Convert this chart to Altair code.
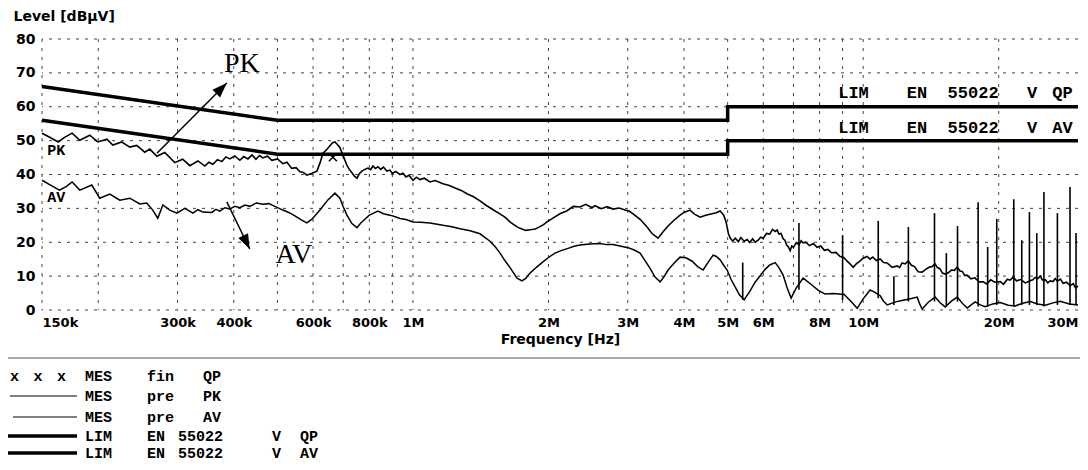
import math
import altair as alt
import pandas as pd

# ---------------- data ----------------
# frequencies in MHz, levels in dBµV
pk_freq = [0.150, 0.156, 0.163, 0.168, 0.175, 0.182, 0.1915, 0.1995, 0.209, 0.2155, 0.2255, 0.235, 0.2435,
           0.2537, 0.2603, 0.270, 0.281, 0.2958, 0.308, 0.3195, 0.333, 0.345, 0.352, 0.3594, 0.368, 0.3763,
           0.384, 0.392, 0.402, 0.4126, 0.421, 0.43, 0.439, 0.448, 0.456, 0.464, 0.475, 0.486, 0.50, 0.514,
           0.525, 0.538, 0.55, 0.561, 0.571, 0.581, 0.595, 0.612, 0.622, 0.631, 0.643, 0.654, 0.663, 0.671,
           0.680, 0.688, 0.70, 0.713, 0.722, 0.732, 0.741, 0.751, 0.760, 0.770, 0.782, 0.794, 0.805, 0.815,
           0.825, 0.836, 0.848, 0.86, 0.875, 0.889, 0.90, 0.915, 0.936, 0.95, 0.965, 0.98, 1.0, 1.018, 1.036,
           1.06, 1.091, 1.12, 1.166, 1.20, 1.24, 1.28, 1.318, 1.36, 1.409, 1.45, 1.506, 1.55, 1.601, 1.65,
           1.70, 1.729, 1.78, 1.82, 1.87, 1.915, 1.95, 1.985, 2.05, 2.121, 2.2, 2.27, 2.35, 2.42, 2.5, 2.537,
           2.62, 2.7, 2.783, 2.87, 2.959, 3.02, 3.083, 3.2, 3.311, 3.40, 3.503, 3.59, 3.687, 3.8, 3.92, 4.0,
           4.126, 4.22, 4.343, 4.47, 4.617, 4.72, 4.811, 4.90, 4.96,
           5.02, 5.064, 5.13, 5.2, 5.28, 5.35, 5.44, 5.524, 5.6, 5.68, 5.76, 5.843, 5.92, 6.0, 6.1, 6.2,
           6.29, 6.376, 6.44, 6.5, 6.57, 6.64, 6.7, 6.76, 6.82, 6.883, 6.94, 7.0, 7.1, 7.2, 7.28, 7.356,
           7.45, 7.6, 7.75, 7.9, 8.05, 8.2, 8.35, 8.5, 8.7, 8.889, 9.05, 9.2, 9.35, 9.501, 9.65, 9.8, 10.0,
           10.2, 10.35, 10.5, 10.7, 10.91, 11.1, 11.3, 11.6, 11.9, 12.05, 12.2, 12.4, 12.59, 12.8, 13.0,
           13.25, 13.52, 13.75, 14.0, 14.2, 14.45, 14.6, 14.8, 15.0, 15.21, 15.45, 15.7, 15.95, 16.18, 16.4,
           16.6, 16.8, 17.0, 17.35, 17.7, 18.1, 18.48, 18.8, 19.2, 19.6, 20.16, 20.5, 20.9, 21.2, 21.54,
           21.9, 22.4, 22.9, 23.5, 23.8, 24.1, 24.4, 24.74, 25.0, 25.4, 25.7, 26.04, 26.4, 26.7, 27.0,
           27.41, 27.8, 28.3, 28.8, 29.29, 29.6, 30.0]
pk_level = [52.2, 51.0, 49.6, 50.9, 52.2, 50.1, 51.6, 49.6, 50.4, 48.7, 49.6, 48.1, 48.6,
            46.6, 47.5, 45.4, 46.5, 43.5, 44.5, 42.6, 44.0, 42.5, 43.6, 43.0, 44.4, 43.8,
            45.2, 44.6, 45.5, 44.2, 45.3, 44.6, 45.8, 44.5, 45.6, 44.9, 45.4, 44.2, 44.6, 43.2,
            43.6, 41.8, 42.0, 40.8, 40.6, 39.8, 40.3, 41.0, 43.5, 46.3, 47.3, 48.5, 49.4, 49.6,
            48.8, 48.0, 45.5, 42.8, 41.5, 40.5, 39.5, 38.9, 40.2, 41.0, 41.5, 41.9, 41.4, 42.5,
            41.8, 42.3, 41.5, 42.2, 41.0, 41.3, 40.3, 40.9, 40.0, 40.4, 39.3, 39.8, 38.3, 39.2, 38.5,
            38.9, 37.8, 38.2, 37.3, 36.8, 36.0, 35.3, 34.3, 33.5, 32.2, 31.0, 29.6, 28.6, 27.4, 25.8,
            24.6, 24.1, 23.5, 23.7, 23.9, 24.6, 25.2, 26.0, 27.2, 28.4, 29.3, 30.6, 30.4, 31.2, 30.2, 30.8,
            29.9, 30.5, 29.8, 30.1, 29.5, 29.2, 28.4, 26.7, 24.5, 22.5, 21.2, 23.0, 24.8, 26.5, 28.0, 28.8,
            29.5, 28.3, 27.4, 28.0, 28.4, 28.7, 29.2, 28.0, 26.0,
            22.5, 21.3, 20.3, 21.2, 20.2, 21.4, 20.3, 20.8, 19.9, 21.0, 20.0, 20.6, 21.5, 21.2, 22.6, 22.4,
            23.8, 23.2, 23.6, 22.4, 22.6, 21.0, 20.6, 19.2, 18.6, 17.5, 18.9, 18.5, 19.8, 19.3, 20.4, 19.8,
            20.0, 19.0, 19.6, 18.5, 18.9, 17.6, 17.9, 16.9, 17.0, 15.8, 15.5, 14.5, 13.6, 12.6, 13.6, 14.3, 15.3,
            15.8, 15.0, 15.6, 14.6, 15.1, 14.0, 13.9, 12.6, 13.0, 12.5, 13.9, 13.6, 14.5, 13.2, 12.8,
            11.3, 11.2, 11.9, 12.6, 12.8, 13.6, 12.6, 12.2, 10.9, 10.6, 11.0, 11.8, 11.7, 12.7, 11.5,
            11.4, 10.2, 10.3, 9.2, 9.5, 8.3, 8.3, 7.7, 8.9, 8.2, 8.4, 7.6, 9.1, 8.8, 9.7,
            8.6, 9.0, 8.0, 8.6, 8.9, 9.6, 9.2, 10.0, 8.9, 8.9, 8.0, 8.6, 8.4, 9.3, 8.5,
            9.1, 7.9, 8.2, 7.2, 7.8, 6.6, 7.0]

av_freq = [0.150, 0.156, 0.164, 0.170, 0.175, 0.182, 0.1935, 0.2015, 0.2122, 0.2233, 0.235, 0.2473, 0.2563,
           0.2643, 0.2712, 0.2783, 0.2884, 0.2989, 0.3114, 0.3245, 0.333, 0.3415, 0.3575, 0.365, 0.3725,
           0.382, 0.392, 0.402, 0.4126, 0.4235, 0.4344, 0.449, 0.4642, 0.4785, 0.4935, 0.5141, 0.53, 0.5467,
           0.565, 0.5814, 0.5966, 0.6216, 0.6473, 0.6709, 0.6883, 0.70, 0.7134, 0.7319, 0.7509, 0.765,
           0.7822, 0.80, 0.818, 0.836, 0.86, 0.8889, 0.91, 0.9356, 0.965, 1.0, 1.04, 1.091, 1.166, 1.22,
           1.272, 1.34, 1.409, 1.483, 1.52, 1.561, 1.60, 1.643, 1.703, 1.747, 1.78, 1.82, 1.88, 1.935, 2.0,
           2.068, 2.14, 2.211, 2.28, 2.35, 2.47, 2.604, 2.69, 2.783, 2.88, 3.005, 3.1, 3.195, 3.28, 3.362,
           3.45, 3.539, 3.61, 3.687, 3.8, 3.92, 4.04, 4.169, 4.29, 4.41, 4.52, 4.642, 4.72, 4.811, 4.9,
           4.987, 5.09, 5.195, 5.31, 5.44, 5.6, 5.754, 6.057, 6.2, 6.376, 6.5, 6.64, 6.78, 6.918, 7.1, 7.356,
           7.5, 7.703, 7.95, 8.234, 8.6, 9.074, 9.4, 9.698, 10.0, 10.36, 10.6, 10.91, 11.1, 11.31, 11.8,
           12.27, 12.8, 13.18, 13.35, 13.52, 13.95, 14.45, 14.8, 15.21, 15.7, 16.18, 16.6, 17.02, 17.4,
           17.74, 18.2, 18.67, 19.4, 20.16, 21.0, 21.76, 22.6, 23.5, 24.4, 25.38, 26.4, 27.41, 28.7, 30.0]
av_level = [38.3, 37.0, 35.4, 36.5, 37.8, 35.4, 36.9, 33.0, 34.2, 32.4, 33.0, 31.3, 31.6,
            29.5, 27.1, 31.0, 29.5, 28.6, 30.0, 28.6, 29.6, 28.9, 28.8, 29.7, 29.2,
            30.2, 29.8, 30.6, 30.2, 31.0, 30.6, 31.6, 31.2, 31.4, 30.6, 29.5, 28.8, 27.8,
            26.6, 25.7, 26.8, 29.5, 32.5, 34.5, 33.0, 30.5, 28.0, 25.5, 24.3, 25.6,
            26.8, 28.0, 28.6, 29.2, 28.4, 28.0, 27.6, 27.0, 26.7, 26.0, 25.9, 25.7, 25.0, 24.6,
            24.0, 23.4, 22.5, 20.3, 18.8, 16.8, 14.6, 12.5, 9.4, 8.6, 9.3, 10.9, 12.6, 14.0, 15.5,
            16.8, 17.6, 18.2, 18.8, 19.2, 19.5, 19.6, 19.3, 19.3, 18.9, 18.4, 17.7, 16.8, 14.5, 12.3,
            9.7, 8.3, 9.8, 11.8, 13.8, 15.6, 15.4, 14.4, 12.8, 11.8, 14.0, 16.2, 15.8, 14.8, 13.2,
            11.8, 9.0, 6.8, 4.5, 3.0, 5.5, 8.2, 12.0, 13.3, 14.0, 12.5, 10.3, 6.5, 3.5, 6.5, 9.4,
            8.5, 7.3, 5.8, 4.7, 4.9, 4.6, 2.5, 0.5, 3.3, 5.9, 5.3, 4.2, 2.6, 1.5, 2.4,
            2.9, 3.4, 3.8, 1.8, 0.3, 2.3, 3.8, 2.2, 0.9, 2.6, 3.8, 2.0, 0.6, 1.6,
            2.4, 1.5, 1.0, 1.8, 2.2, 1.4, 1.2, 2.0, 2.5, 1.8, 1.4, 2.1, 2.6, 1.8, 1.5]

spike_freq = [5.4, 7.2, 9.0, 10.8, 11.7, 12.6, 14.4, 15.3, 16.2, 18.0, 18.9, 19.8, 21.6, 22.5, 23.4,
              24.3, 25.2, 27.0, 28.8, 29.7]
spike_top = [14.0, 25.7, 22.1, 26.3, 10.0, 24.5, 28.6, 16.8, 24.8, 31.8, 18.6, 26.9, 32.7, 20.6, 28.9,
             22.7, 34.8, 28.6, 36.3, 22.7]
spike_bottom = [3.0, 6.0, 3.0, 3.5, 1.5, 2.5, 2.5, 1.0, 2.5, 1.0, 1.0, 1.5, 1.0, 1.5, 1.5,
                1.5, 1.0, 1.5, 1.5, 1.5]

qp_lim_freq = [0.15, 0.5, 5.0, 5.0, 30.0]
qp_lim_level = [66, 56, 56, 60, 60]
av_lim_freq = [0.15, 0.5, 5.0, 5.0, 30.0]
av_lim_level = [56, 46, 46, 50, 50]

fin_qp_freq = [0.664]
fin_qp_level = [45.1]

grid_freq = [0.15, 0.2, 0.3, 0.4, 0.5, 0.6, 0.7, 0.8, 0.9, 1, 2, 3, 4, 5, 6, 7, 8, 9, 10, 20]
grid_level = [0, 10, 20, 30, 40, 50, 60, 70, 80]

x_tick_values = [0.15, 0.3, 0.4, 0.6, 0.8, 1, 2, 3, 4, 5, 6, 8, 10, 20, 30]
x_tick_labels = ["150k", "300k", "400k", "600k", "800k", "1M", "2M", "3M", "4M", "5M", "6M", "8M",
                 "10M", "20M", "30M"]
y_tick_values = [0, 10, 20, 30, 40, 50, 60, 70, 80]

legend_rows = [
    ("x x x", "MES", "fin QP"),
    ("", "MES", "pre PK"),
    ("", "MES", "pre AV"),
    ("", "LIM", "EN 55022 V QP"),
    ("", "LIM", "EN 55022 V AV"),
]

# ---------------- layout ----------------
W, H = 1036, 271
F_MIN, F_MAX = 0.15, 30.0
V_MIN, V_MAX = 0, 80
MONO = "Liberation Mono"
SANS = "DejaVu Sans"
SERIF = "Liberation Serif"


def px(f, v):
    x = (math.log10(f) - math.log10(F_MIN)) / (math.log10(F_MAX) - math.log10(F_MIN)) * W
    y = H * (1 - (v - V_MIN) / (V_MAX - V_MIN))
    return x, y


def heading(f1, v1, f2, v2):
    x1, y1 = px(f1, v1)
    x2, y2 = px(f2, v2)
    return math.degrees(math.atan2(x2 - x1, -(y2 - y1))) % 360


label_expr = " : ".join(
    f"datum.value == {v} ? '{t}'" for v, t in zip(x_tick_values, x_tick_labels)
) + " : ''"

xscale = alt.Scale(type="log", domain=[F_MIN, F_MAX], nice=False, zero=False)
yscale = alt.Scale(domain=[V_MIN, V_MAX], nice=False, zero=False)

x_axis = alt.Axis(values=x_tick_values, labelExpr=label_expr, grid=False, ticks=False, domain=False,
                  labelFlush=True, labelOverlap=False, labelBound=False,
                  labelFont=SANS, labelFontWeight="bold", labelFontSize=13, labelColor="black",
                  labelPadding=6, title="Frequency [Hz]", titleFont=SANS, titleFontWeight="bold",
                  titleFontSize=14, titleColor="black", titlePadding=3)
y_axis = alt.Axis(values=y_tick_values, grid=False, ticks=False, domain=False,
                  labelFont=SANS, labelFontWeight="bold", labelFontSize=14, labelColor="black",
                  labelPadding=7, labelOverlap=False,
                  title="Level [dBµV]", titleAngle=0, titleAlign="left", titleBaseline="top",
                  titleX=-29, titleY=-30, titleFont=SANS, titleFontWeight="bold",
                  titleFontSize=14, titleColor="black")


def X(field="f"):
    return alt.X(f"{field}:Q", scale=xscale, axis=x_axis)


def Y(field="v"):
    return alt.Y(f"{field}:Q", scale=yscale, axis=y_axis)


# ---------------- tables ----------------
df_pk = pd.DataFrame({"f": pk_freq, "v": pk_level})
df_av = pd.DataFrame({"f": av_freq, "v": av_level})
df_sp = pd.DataFrame({"f": spike_freq, "v": spike_top, "v2": spike_bottom})
df_lim = pd.concat([
    pd.DataFrame({"f": qp_lim_freq, "v": qp_lim_level, "s": "QP", "i": range(len(qp_lim_freq))}),
    pd.DataFrame({"f": av_lim_freq, "v": av_lim_level, "s": "AV", "i": range(len(av_lim_freq))}),
])
df_fin = pd.DataFrame({"f": fin_qp_freq, "v": fin_qp_level})
df_gx = pd.DataFrame({"f": grid_freq})
df_gy = pd.DataFrame({"v": grid_level})

grid_style = dict(strokeDash=[3, 6], color="#222", strokeWidth=1, opacity=0.85)
hgrid = alt.Chart(df_gy).mark_rule(**grid_style).encode(y=Y())
vgrid = alt.Chart(df_gx).mark_rule(**grid_style).encode(x=X())

limits = alt.Chart(df_lim).mark_line(color="black", strokeWidth=3.5, strokeCap="butt").encode(
    x=X(), y=Y(), detail="s:N", order="i:Q")
pk_line = alt.Chart(df_pk).mark_line(color="black", strokeWidth=1.6).encode(x=X(), y=Y())
av_line = alt.Chart(df_av).mark_line(color="black", strokeWidth=1.5).encode(x=X(), y=Y())
spikes = alt.Chart(df_sp).mark_rule(color="black", strokeWidth=1.6).encode(x=X(), y=Y(), y2="v2:Q")
fin_mark = alt.Chart(df_fin).mark_point(shape="M-1,-1L1,1M-1,1L1,-1", size=64, color="black",
                                        strokeWidth=1.5, filled=False, opacity=1).encode(x=X(), y=Y())

# in-plot annotations (anchors in data units)
lim_text = pd.DataFrame({
    "f": [8.8, 12.5, 15.4, 23.1, 26.3, 8.8, 12.5, 15.4, 23.1, 26.3],
    "v": [64.0] * 5 + [53.7] * 5,
    "t": ["LIM", "EN", "55022", "V", "QP", "LIM", "EN", "55022", "V", "AV"],
})
lim_labels = alt.Chart(lim_text).mark_text(font=MONO, fontWeight="bold", fontSize=17, align="left",
                                           baseline="middle", color="black").encode(
    x=X(), y=Y(), text="t:N")

small_text = pd.DataFrame({"f": [0.154, 0.154], "v": [47.2, 33.3], "t": ["PK", "AV"]})
small_labels = alt.Chart(small_text).mark_text(font=MONO, fontWeight="bold", fontSize=15, align="left",
                                               baseline="middle", color="black").encode(
    x=X(), y=Y(), text="t:N")

big_text = pd.DataFrame({"f": [0.417, 0.544], "v": [72.6, 16.2], "t": ["PK", "AV"]})
big_labels = alt.Chart(big_text).mark_text(font=SERIF, fontSize=28, align="center",
                                           baseline="middle", color="black").encode(
    x=X(), y=Y(), text="t:N")

arrows = pd.DataFrame({"f": [0.270, 0.386], "v": [46.3, 31.9], "f2": [0.386, 0.434], "v2": [67.0, 18.0]})
arrows["a"] = [heading(r.f, r.v, r.f2, r.v2) for r in arrows.itertuples()]
arrow_lines = alt.Chart(arrows).mark_rule(color="black", strokeWidth=1.5).encode(
    x=X(), y=Y(), x2="f2:Q", y2="v2:Q")
arrow_heads = alt.Chart(arrows).mark_point(shape="M0,0L-0.36,1L0.36,1Z", size=900, filled=True,
                                           color="black", opacity=1).encode(
    x=X("f2"), y=Y("v2"), angle=alt.Angle("a:Q", scale=None))

# ---------------- legend under the plot ----------------
one = pd.DataFrame({"a": [0]})
legend_layers = [
    alt.Chart(one).mark_rule(color="#555", strokeWidth=1).encode(
        x=alt.value(-34), x2=alt.value(1038), y=alt.value(319)),
]
row_y = [337, 357, 378, 397, 414]
col_x = [-32, 43, 105]
sample_w = [None, 1.0, 1.0, 3.5, 3.5]
sample_x0 = [None, -32, -29, -34, -34]
LEG_FS = 15
for k, (c1, c2, c3) in enumerate(legend_rows):
    yy = row_y[k]
    if c1:
        for j, tok in enumerate(c1.split(" ")):
            legend_layers.append(alt.Chart(one).mark_text(
                font=MONO, fontWeight="bold", fontSize=LEG_FS, align="left", baseline="middle",
                color="black").encode(x=alt.value(col_x[0] + j * 23.5), y=alt.value(yy),
                                      text=alt.value(tok)))
    else:
        legend_layers.append(alt.Chart(one).mark_rule(color="black", strokeWidth=sample_w[k]).encode(
            x=alt.value(sample_x0[k]), x2=alt.value(35), y=alt.value(yy)))
    legend_layers.append(alt.Chart(one).mark_text(
        font=MONO, fontWeight="bold", fontSize=LEG_FS, align="left", baseline="middle",
        color="black").encode(x=alt.value(col_x[1]), y=alt.value(yy), text=alt.value(c2)))
    toks = c3.split(" ")
    if len(toks) == 2:
        xs = [col_x[2], col_x[2] + 56]
    else:
        xs = [col_x[2], col_x[2] + 31, col_x[2] + 125, col_x[2] + 153]
    for tok, xx in zip(toks, xs):
        legend_layers.append(alt.Chart(one).mark_text(
            font=MONO, fontWeight="bold", fontSize=LEG_FS, align="left", baseline="middle",
            color="black").encode(x=alt.value(xx), y=alt.value(yy), text=alt.value(tok)))

chart = alt.layer(
    hgrid, vgrid, limits, spikes, av_line, pk_line, fin_mark, lim_labels, small_labels, big_labels,
    arrow_lines, arrow_heads, *legend_layers
).properties(
    width=W, height=H,
    autosize=alt.AutoSizeParams(type="none"),
    padding={"left": 34, "top": 31, "right": 2, "bottom": 152},
    background="white",
).configure_view(stroke=None)

chart.save("out.html", embed_options={"renderer": "svg", "actions": False})
